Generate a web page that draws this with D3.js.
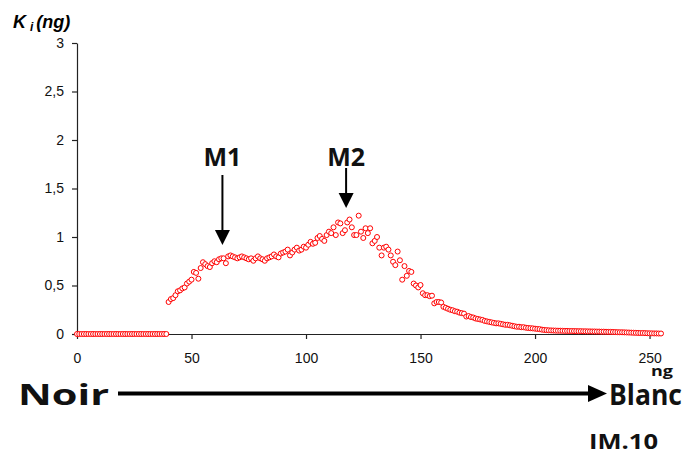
<!DOCTYPE html>
<html>
<head>
<meta charset="utf-8">
<script src="https://cdn.jsdelivr.net/npm/d3@7"></script>
<style>
  body { margin: 0; background: #fff; }
  .axis text { font-family: "Liberation Sans", Arial, sans-serif; font-size: 14px; fill: #111; }
  .axis path, .axis line { stroke: #222; stroke-width: 1.2; }
  .big { font-family: "Open Sans", sans-serif; font-weight: bold; fill: #111; }
</style>
</head>
<body>
<svg width="691" height="455"></svg>
<script>
// grey levels 0..255 and the K_i values
var levels = d3.range(0, 256);
var kZeros = [0,0,0,0,0,0,0,0,0,0, 0,0,0,0,0,0,0,0,0,0, 0,0,0,0,0,0,0,0,0,0, 0,0,0,0,0,0,0,0,0,0];
var kValues = [
  0.33,0.36,0.37,0.40,0.44,0.45,0.47,0.48,0.52,0.54,   // 40-49
  0.56,0.64,0.63,0.57,0.68,0.74,0.72,0.70,0.69,0.73,   // 50-59
  0.75,0.74,0.77,0.78,0.78,0.73,0.80,0.81,0.80,0.79,   // 60-69
  0.78,0.79,0.80,0.79,0.78,0.77,0.78,0.755,0.78,0.80,  // 70-79
  0.78,0.77,0.755,0.78,0.79,0.80,0.82,0.80,0.79,0.83,  // 80-89
  0.84,0.85,0.87,0.81,0.84,0.87,0.89,0.86,0.87,0.90,   // 90-99
  0.89,0.92,0.95,0.93,0.94,0.99,1.01,0.98,0.96,1.02,   // 100-109
  1.055,1.04,1.10,1.02,1.15,1.14,1.04,1.07,1.15,1.18,  // 110-119
  1.10,1.02,1.02,1.22,1.055,0.99,1.09,1.04,1.09,0.935, // 120-129
  0.96,1.00,0.89,0.81,0.89,0.90,0.87,0.81,0.745,0.71,  // 130-139
  0.85,0.76,0.56,0.70,0.60,0.65,0.64,0.52,0.50,0.48,   // 140-149
  0.505,0.42,0.40,0.40,0.39,0.395,0.316,0.33,0.33,0.325, // 150-159
  0.28,0.27,0.26,0.25,0.245,0.235,0.23,0.22,0.215,0.21,  // 160-169
  0.18,0.185,0.175,0.17,0.16,0.155,0.15,0.145,0.135,0.13, // 170-179
  0.125,0.12,0.115,0.11,0.11,0.105,0.10,0.095,0.095,0.09, // 180-189
  0.085,0.08,0.075,0.075,0.07,0.07,0.065,0.062,0.06,0.058, // 190-199
  0.055,0.052,0.05,0.045,0.042,0.04,0.038,0.037,0.036,0.035, // 200-209
  0.034,0.034,0.033,0.032,0.032,0.031,0.031,0.030,0.030,0.029, // 210-219
  0.029,0.028,0.028,0.027,0.027,0.026,0.026,0.025,0.025,0.024, // 220-229
  0.024,0.023,0.022,0.022,0.021,0.020,0.019,0.018,0.018,0.017, // 230-239
  0.016,0.015,0.014,0.013,0.012,0.011,0.010,0.010,0.009,0.008, // 240-249
  0.007,0.007,0.006,0.006,0.005,0.005                          // 250-255
];
var xTicks = [0, 50, 100, 150, 200, 250];
var yTicks = [0, 0.5, 1, 1.5, 2, 2.5, 3];
var markers = [{name: "M1", level: 63.5, top: 175, tip: 245}, {name: "M2", level: 117.5, top: 168, tip: 208}];

var svg = d3.select("svg");
var x = d3.scaleLinear().domain([0, 255]).range([77, 661]);
var y = d3.scaleLinear().domain([0, 3]).range([334, 43]);

var data = levels.map(function(l, i) {
  return {level: l, k: kZeros.concat(kValues)[i]};
});

// axes
svg.append("g")
  .attr("class", "axis")
  .attr("transform", "translate(0,334)")
  .call(d3.axisBottom(x).tickValues(xTicks).tickSize(5).tickSizeOuter(0).tickPadding(14));

svg.append("g")
  .attr("class", "axis")
  .attr("transform", "translate(77,0)")
  .call(d3.axisLeft(y).tickValues(yTicks).tickSize(5).tickSizeOuter(0).tickPadding(8)
    .tickFormat(function(d) { return String(d).replace(".", ","); }));

// points
svg.append("g").selectAll("circle")
  .data(data)
  .enter()
  .append("circle")
  .attr("cx", function(d) { return x(d.level); })
  .attr("cy", function(d) { return y(d.k); })
  .attr("r", 2.5)
  .attr("fill", "#fff")
  .attr("stroke", "#ff0000")
  .attr("stroke-width", 1);

// y title
var title = svg.append("text")
  .attr("x", 13)
  .attr("y", 28)
  .style("font-family", "Liberation Sans, Arial, sans-serif")
  .style("font-weight", "bold")
  .style("font-style", "italic")
  .style("font-size", "18px");
title.append("tspan").text("K");
title.append("tspan").attr("dx", 4).attr("dy", 3).style("font-size", "12px").text("i");
title.append("tspan").attr("dx", 3).attr("dy", -3).text("(ng)");

// M1 / M2 arrows
markers.forEach(function(m) {
  var cx = x(m.level);
  svg.append("text")
    .attr("class", "big")
    .attr("x", cx)
    .attr("y", 166)
    .attr("text-anchor", "middle")
    .style("font-size", "25px")
    .text(m.name);
  svg.append("line")
    .attr("x1", cx).attr("x2", cx)
    .attr("y1", m.top).attr("y2", m.tip - 12)
    .attr("stroke", "#000").attr("stroke-width", 2);
  svg.append("path")
    .attr("d", "M" + (cx - 7.5) + "," + (m.tip - 15) + "L" + (cx + 7.5) + "," + (m.tip - 15) + "L" + cx + "," + m.tip + "Z")
    .attr("fill", "#000");
});

// Noir -> Blanc arrow
svg.append("text").attr("class", "big").attr("x", 18).attr("y", 405)
  .attr("textLength", 91).attr("lengthAdjust", "spacingAndGlyphs")
  .style("font-size", "29px").text("Noir");
svg.append("line").attr("x1", 118).attr("x2", 592).attr("y1", 393.5).attr("y2", 393.5)
  .attr("stroke", "#000").attr("stroke-width", 4);
svg.append("path").attr("d", "M588,385L607,393.5L588,402Z").attr("fill", "#000");
svg.append("text").attr("class", "big").attr("x", 609).attr("y", 405)
  .attr("textLength", 73).attr("lengthAdjust", "spacingAndGlyphs")
  .style("font-size", "29px").text("Blanc");
svg.append("text").attr("class", "big").attr("x", 651).attr("y", 376)
  .attr("textLength", 22).attr("lengthAdjust", "spacingAndGlyphs")
  .style("font-size", "15px").text("ng");
svg.append("text").attr("class", "big").attr("x", 589).attr("y", 449)
  .attr("textLength", 69).attr("lengthAdjust", "spacingAndGlyphs")
  .style("font-size", "21px").text("IM.10");
</script>
</body>
</html>
